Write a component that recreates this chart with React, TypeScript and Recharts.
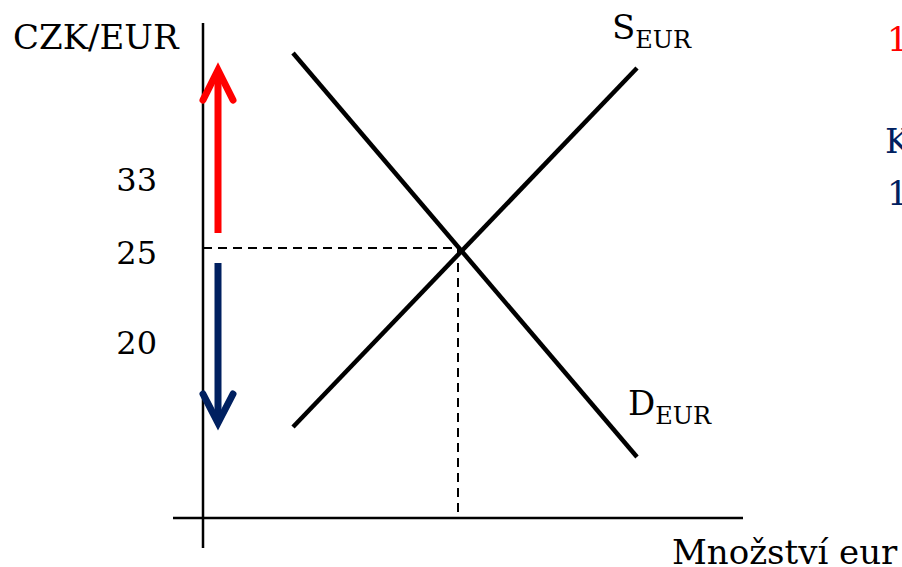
import React from 'react';
import { ComposedChart, Line, Scatter, XAxis, YAxis } from 'recharts';

// schematic units: q = quantity of euros, p = CZK/EUR level (origin at the axis crossing)
const xAxisLine = [{ q: -3, p: 0 }, { q: 54, p: 0 }];
const yAxisLine = [{ q: 0, p: 49.5 }, { q: 0, p: -3 }];
const supplyEur = [{ q: 9, p: 9.1 }, { q: 43.4, p: 45 }];
const demandEur = [{ q: 9, p: 46.5 }, { q: 43.4, p: 6.1 }];
const eqRateGuide = [{ q: 0, p: 27 }, { q: 25.5, p: 27 }];
const eqQtyGuide = [{ q: 25.5, p: 27 }, { q: 25.5, p: 0 }];
const upShaft = [{ q: 1.5, p: 28.5 }, { q: 1.5, p: 44.6 }];
const upHead = [{ q: 0, p: 41.8 }, { q: 1.5, p: 44.8 }, { q: 3, p: 41.8 }];
const downShaft = [{ q: 1.5, p: 25.5 }, { q: 1.5, p: 9.5 }];
const downHead = [{ q: 0, p: 12.4 }, { q: 1.5, p: 9.5 }, { q: 3, p: 12.4 }];

const rateTicks = [
  { q: -4.6, p: 33.9, label: '33' },
  { q: -4.6, p: 26.6, label: '25' },
  { q: -4.6, p: 17.6, label: '20' },
];

const textLabels = [
  { q: -19, p: 46.9, main: 'CZK/EUR', sub: '', tone: 'ink' },
  { q: 40.9, p: 47.9, main: 'S', sub: 'EUR', tone: 'ink' },
  { q: 42.5, p: 10.3, main: 'D', sub: 'EUR', tone: 'ink' },
  { q: 46.9, p: -4.6, main: 'Množství eur', sub: '', tone: 'ink' },
  { q: 68.4, p: 46.7, main: '1', sub: '', tone: 'red' },
  { q: 68.2, p: 36.5, main: 'K', sub: '', tone: 'navy' },
  { q: 68.4, p: 31.3, main: '1', sub: '', tone: 'navy' },
];

const FONT = '"DejaVu Serif", "Liberation Serif", serif';
const TONES: Record<string, string> = { ink: '#000000', red: '#FF0000', navy: '#002060' };

const TickText = (props: any) => {
  const { cx, cy, payload } = props;
  return (
    <text x={cx} y={cy} dy="0.36em" textAnchor="end" fontFamily={FONT} fontSize={32} fill="#000">
      {payload.label}
    </text>
  );
};

const NoteText = (props: any) => {
  const { cx, cy, payload } = props;
  return (
    <text x={cx} y={cy} fontFamily={FONT} fontSize={34} fill={TONES[payload.tone]}>
      <tspan>{payload.main}</tspan>
      {payload.sub && (
        <tspan fontSize={24} dy={9}>
          {payload.sub}
        </tspan>
      )}
    </text>
  );
};

export default function App() {
  return (
    <div style={{ position: 'absolute', left: 0, top: 0, background: '#fff' }}>
      <ComposedChart width={902} height={567} margin={{ top: 0, right: 0, bottom: 0, left: 0 }}>
        <XAxis type="number" dataKey="q" domain={[-20.3, 69.9]} allowDataOverflow hide />
        <YAxis type="number" dataKey="p" domain={[-4.9, 51.8]} allowDataOverflow hide />

        <Line data={xAxisLine} dataKey="p" stroke="#000" strokeWidth={2.5} dot={false} isAnimationActive={false} />
        <Line data={yAxisLine} dataKey="p" stroke="#000" strokeWidth={2.5} dot={false} isAnimationActive={false} />

        <Line data={eqRateGuide} dataKey="p" stroke="#000" strokeWidth={2} strokeDasharray="9 6" dot={false} isAnimationActive={false} />
        <Line data={eqQtyGuide} dataKey="p" stroke="#000" strokeWidth={2} strokeDasharray="9 6" dot={false} isAnimationActive={false} />

        <Line data={supplyEur} dataKey="p" stroke="#000" strokeWidth={4.5} dot={false} isAnimationActive={false} />
        <Line data={demandEur} dataKey="p" stroke="#000" strokeWidth={4.5} dot={false} isAnimationActive={false} />

        <Line data={upShaft} dataKey="p" stroke="#FF0000" strokeWidth={7} dot={false} isAnimationActive={false} />
        <Line data={upHead} dataKey="p" stroke="#FF0000" strokeWidth={7} strokeLinecap="round" dot={false} isAnimationActive={false} />
        <Line data={downShaft} dataKey="p" stroke="#002060" strokeWidth={7} dot={false} isAnimationActive={false} />
        <Line data={downHead} dataKey="p" stroke="#002060" strokeWidth={7} strokeLinecap="round" dot={false} isAnimationActive={false} />

        <Scatter data={rateTicks} dataKey="p" shape={TickText} isAnimationActive={false} />
        <Scatter data={textLabels} dataKey="p" shape={NoteText} isAnimationActive={false} />
      </ComposedChart>
    </div>
  );
}
